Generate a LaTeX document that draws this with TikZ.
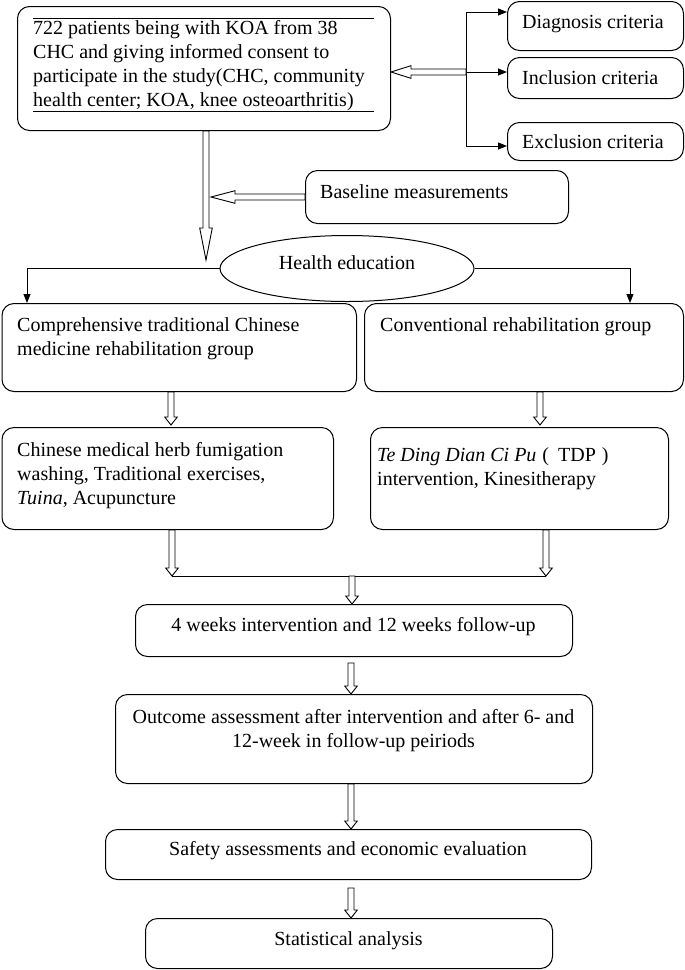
\documentclass[tikz,border=0pt]{standalone}
\usepackage{fontspec}
\setmainfont{Liberation Serif}
\usetikzlibrary{calc,shapes.geometric,arrows.meta}
\newcommand\fsz{\fontsize{20}{24}\selectfont}
\begin{document}
\begin{tikzpicture}[x=1pt,y=-1pt,
  box/.style={draw, line width=1pt, rounded corners=12pt, anchor=north west, inner sep=0pt},
  txt/.style={anchor=north west, inner sep=0pt, align=left, font=\fsz, yshift=16.8pt},
  ctxt/.style={anchor=north, inner sep=0pt, align=center, font=\fsz, yshift=16.8pt},
  thinln/.style={line width=1pt},
  ptarrow/.style={line width=1pt, -{Triangle[length=9pt,width=7pt]}},
  harrow/.style={line width=0.9pt, fill=white, to path={
    ($(\tikztostart)!3pt!90:(\tikztotarget)$)
    -- ($(\tikztotarget)!#1!(\tikztostart)!3pt!-90:(\tikztostart)$)
    -- ($(\tikztotarget)!#1!(\tikztostart)!6.3pt!-90:(\tikztostart)$)
    -- (\tikztotarget)
    -- ($(\tikztotarget)!#1!(\tikztostart)!6.3pt!90:(\tikztostart)$)
    -- ($(\tikztotarget)!#1!(\tikztostart)!3pt!90:(\tikztostart)$)
    -- ($(\tikztostart)!3pt!-90:(\tikztotarget)$) -- cycle}},
]
\useasboundingbox (0,0) rectangle (685,970);

% top part
\node[box, minimum width=373pt, minimum height=124pt] (top) at (17,6) {};
\node[txt] (toptxt) at (33,34) {\strut 722 patients being with KOA from 38\\CHC and giving informed consent to\\participate in the study(CHC, community\\health center; KOA, knee osteoarthritis)};
\draw[thinln] (33,18) -- (374,18);
\draw[thinln] (33,111) -- (374,111);

\node[box, minimum width=176pt, minimum height=49pt] (diag) at (507,1) {};
\node[txt] (diagtxt) at (522,28) {\strut Diagnosis criteria};
\node[box, minimum width=176pt, minimum height=41pt] (incl) at (507,57) {};
\node[txt] (incltxt) at (522,84) {\strut Inclusion criteria};
\node[box, minimum width=176pt, minimum height=38pt] (excl) at (507,122) {};
\node[txt] (excltxt) at (522,148) {\strut Exclusion criteria};

\coordinate (bk1) at (466,12);
\coordinate (bk2) at (466,72);
\coordinate (bk3) at (466,146);
\draw[thinln] (bk1) -- (bk3);
\draw[ptarrow] (bk1) -- (bk1 -| diag.west);
\draw[ptarrow] (bk2) -- (bk2 -| incl.west);
\draw[ptarrow] (bk3) -- (bk3 -| excl.west);
\draw[harrow=20pt] (bk2) to (bk2 -| top.east);

\node[box, minimum width=263pt, minimum height=53pt] (base) at (305,170) {};
\node[txt] (basetxt) at (320,198) {\strut Baseline measurements};

\coordinate (tip) at (206,260);
\coordinate (bt) at (211,197);
\draw[harrow=32pt] (top.south -| tip) to (tip);
\draw[harrow=24pt] (base.west |- bt) to (bt);

% health education
\node[draw, line width=1pt, ellipse, minimum width=254pt, minimum height=66pt, inner sep=0pt, font=\fsz, text depth=12pt] (he) at (347,268.5) {Health education};

\node[box, minimum width=354.5pt, minimum height=88pt] (lbox) at (1.5,303) {};
\node[txt] (lboxtxt) at (17,331) {\strut Comprehensive traditional Chinese\\medicine rehabilitation group};
\node[box, minimum width=319pt, minimum height=88pt] (rbox) at (364,303) {};
\node[txt] (rboxtxt) at (380,331) {\strut Conventional rehabilitation group};

\coordinate (lt) at (27,303);
\coordinate (rt) at (630,303);
\draw[ptarrow] (he.west) -| (lt);
\draw[ptarrow] (he.east) -| (rt);

\node[box, minimum width=331.5pt, minimum height=102pt] (lbox2) at (1.5,427) {};
\node[txt] (lbox2txt) at (17,456) {\strut Chinese medical herb fumigation\\washing, Traditional exercises,\\\textit{Tuina}, Acupuncture};
\node[box, minimum width=298pt, minimum height=102pt] (rbox2) at (370,427) {};
\node[txt] (rbox2txt) at (377,461) {\strut\textit{Te Ding Dian Ci Pu}\hspace{6pt}(\hspace{9pt}TDP\hspace{6pt})\\intervention, Kinesitherapy};

\draw[harrow=8pt] (lbox.south -| 171,0) to (171,425);
\draw[harrow=8pt] (rbox.south -| 540,0) to (540,425);

\coordinate (jl) at (172,576);
\coordinate (jr) at (546,576);
\coordinate (jm) at (352,576);
\draw[harrow=8pt] (lbox2.south -| jl) to (jl);
\draw[harrow=8pt] (rbox2.south -| jr) to (jr);
\draw[thinln] (jl) -- (jr);

% bottom chain
\node[box, minimum width=437pt, minimum height=52pt] (w4) at (135,604) {};
\node[ctxt] (w4txt) at (353.5,631) {\strut 4 weeks intervention and 12 weeks follow-up};
\node[box, minimum width=477pt, minimum height=89pt] (out) at (115,694) {};
\node[ctxt] (outtxt) at (353.5,723) {\strut Outcome assessment after intervention and after 6- and\\12-week in follow-up peiriods};
\node[box, minimum width=486pt, minimum height=50pt] (safe) at (105,829) {};
\node[ctxt] (safetxt) at (348,855) {\strut Safety assessments and economic evaluation};
\node[box, minimum width=407pt, minimum height=50pt] (stat) at (145,918) {};
\node[ctxt] (stattxt) at (348.5,945) {\strut Statistical analysis};

\draw[harrow=8pt] (jm) to (w4.north -| jm);
\draw[harrow=8pt] (351,663) to (out.north -| 351,0);
\draw[harrow=8pt] (out.south -| 351,0) to (safe.north -| 351,0);
\draw[harrow=8pt] (351,888) to (stat.north -| 351,0);
\end{tikzpicture}
\end{document}
